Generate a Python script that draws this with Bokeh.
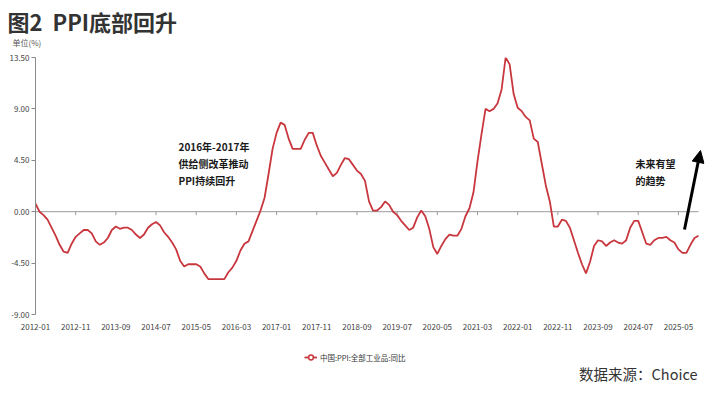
import numpy as np
from bokeh.plotting import figure
from bokeh.layouts import column
from bokeh.models import (Range1d, FixedTicker, NumeralTickFormatter, Label,
                          Arrow, NormalHead, Legend, LegendItem, ColumnDataSource)
from bokeh.embed import file_html
from bokeh.resources import INLINE

# ---------------- data ----------------
start_year, start_month = 2012, 1
ppi_yoy = [
    # 2012
    0.7, 0.0, -0.3, -0.7, -1.4, -2.1, -2.9, -3.5, -3.6, -2.8, -2.2, -1.9,
    # 2013
    -1.6, -1.6, -1.9, -2.6, -2.9, -2.7, -2.3, -1.6, -1.3, -1.5, -1.4, -1.4,
    # 2014
    -1.6, -2.0, -2.3, -2.0, -1.4, -1.1, -0.9, -1.2, -1.8, -2.2, -2.7, -3.3,
    # 2015
    -4.3, -4.8, -4.6, -4.6, -4.6, -4.8, -5.4, -5.9, -5.9, -5.9, -5.9, -5.9,
    # 2016
    -5.3, -4.9, -4.3, -3.4, -2.8, -2.6, -1.7, -0.8, 0.1, 1.2, 3.3, 5.5,
    # 2017
    6.9, 7.8, 7.6, 6.4, 5.5, 5.5, 5.5, 6.3, 6.9, 6.9, 5.8, 4.9,
    # 2018
    4.3, 3.7, 3.1, 3.4, 4.1, 4.7, 4.6, 4.1, 3.6, 3.3, 2.7, 0.9,
    # 2019
    0.1, 0.1, 0.4, 0.9, 0.6, 0.0, -0.3, -0.8, -1.2, -1.6, -1.4, -0.5,
    # 2020
    0.1, -0.4, -1.5, -3.1, -3.7, -3.0, -2.4, -2.0, -2.1, -2.1, -1.5, -0.4,
    # 2021
    0.3, 1.7, 4.4, 6.8, 9.0, 8.8, 9.0, 9.5, 10.7, 13.5, 12.9, 10.3,
    # 2022
    9.1, 8.8, 8.3, 8.0, 6.4, 6.1, 4.2, 2.3, 0.9, -1.3, -1.3, -0.7,
    # 2023
    -0.8, -1.4, -2.5, -3.6, -4.6, -5.4, -4.4, -3.0, -2.5, -2.6, -3.0, -2.7,
    # 2024
    -2.5, -2.7, -2.8, -2.5, -1.4, -0.8, -0.8, -1.8, -2.8, -2.9, -2.5, -2.3,
    # 2025
    -2.3, -2.2, -2.5, -2.7, -3.3, -3.6, -3.6, -2.9, -2.3, -2.1,
]
months = []
for i in range(len(ppi_yoy)):
    y = start_year + (start_month - 1 + i) // 12
    m = (start_month - 1 + i) % 12 + 1
    months.append(f"{y}-{m:02d}")
month_idx = list(range(len(ppi_yoy)))

x_tick_labels = ["2012-01", "2012-11", "2013-09", "2014-07", "2015-05", "2016-03",
                 "2017-01", "2017-11", "2018-09", "2019-07", "2020-05", "2021-03",
                 "2022-01", "2022-11", "2023-09", "2024-07", "2025-05"]
x_tick_idx = [months.index(s) for s in x_tick_labels]
y_ticks = [-9.0, -4.5, 0.0, 4.5, 9.0, 13.5]

series_name = "中国:PPI:全部工业品:同比"
title_text = "图2\u00a0\u00a0PPI底部回升"
unit_text = "单位(%)"
note1_text = "2016年-2017年\n供给侧改革推动\nPPI持续回升"
note2_text = "未来有望\n的趋势"
source_text = "数据来源：Choice"

# ---------------- layout geometry (page pixels) ----------------
W = 721
TOP_H = 50            # header strip height
F_LEFT, F_DATA_RIGHT, F_TOP, F_BOTTOM = 35, 698, 57, 314
F_RIGHT = 704         # frame right edge (a little beyond the last data point)
MAIN_H = 284          # main figure height
BOT_H = 62            # footer strip height
MAIN_TOP = TOP_H
BOT_TOP = MAIN_TOP + MAIN_H

x0, x1 = 0, len(ppi_yoy) - 1
px_per_month = (F_DATA_RIGHT - F_LEFT) / (x1 - x0)
x_end = x1 + (F_RIGHT - F_DATA_RIGHT) / px_per_month
ymin, ymax = y_ticks[0], y_ticks[-1]


def px_x(px):
    return x0 + (px - F_LEFT) / px_per_month


def px_y(py):
    return ymax - (py - F_TOP) / (F_BOTTOM - F_TOP) * (ymax - ymin)


FONT = "Noto Sans CJK SC"
RED = "#c8373e"
AXIS_GREY = "#8a8a8a"


def strip(height):
    f = figure(width=W, height=height, output_backend="svg", toolbar_location=None,
               x_range=Range1d(0, W), y_range=Range1d(height, 0),
               x_axis_location=None, y_axis_location=None,
               min_border=0, min_border_left=0, min_border_right=0,
               min_border_top=0, min_border_bottom=0, frame_align=False,
               background_fill_color="white", border_fill_color="white")
    f.outline_line_color = None
    f.xgrid.visible = False
    f.ygrid.visible = False
    return f


# ---------------- header ----------------
top = strip(TOP_H)
top.add_layout(Label(x=7, y=4, text=title_text, text_font=FONT,
                     text_font_size="22px", text_font_style="bold", text_color="#333333",
                     text_align="left", text_baseline="top"))
top.add_layout(Label(x=12, y=42, text=unit_text, text_font=FONT,
                     text_font_size="8px", text_color="#555555",
                     text_align="left", text_baseline="middle"))

# ---------------- main chart ----------------
p = figure(width=W, height=MAIN_H, output_backend="svg", toolbar_location=None,
           x_range=Range1d(x0, x_end), y_range=Range1d(ymin, ymax),
           min_border_left=F_LEFT, min_border_right=W - F_RIGHT,
           min_border_top=F_TOP - MAIN_TOP,
           min_border_bottom=MAIN_H - (F_BOTTOM - MAIN_TOP), frame_align=False,
           background_fill_color="white", border_fill_color="white")
p.outline_line_color = None
p.xgrid.grid_line_color = None
p.ygrid.grid_line_color = None

p.yaxis.ticker = FixedTicker(ticks=y_ticks)
p.yaxis.formatter = NumeralTickFormatter(format="0.00")
p.yaxis.axis_line_color = AXIS_GREY
p.yaxis.major_tick_line_color = AXIS_GREY
p.yaxis.major_tick_out = 4
p.yaxis.major_tick_in = 0
p.yaxis.minor_tick_line_color = None
p.yaxis.major_label_text_font = FONT
p.yaxis.major_label_text_font_size = "8px"
p.yaxis.major_label_text_color = "#444444"
p.yaxis.major_label_standoff = 2

p.xaxis.ticker = FixedTicker(ticks=x_tick_idx)
p.xaxis.major_label_overrides = {i: s for i, s in zip(x_tick_idx, x_tick_labels)}
p.xaxis.axis_line_color = None
p.xaxis.major_tick_line_color = None
p.xaxis.minor_tick_line_color = None
p.xaxis.major_label_text_font = FONT
p.xaxis.major_label_text_font_size = "8px"
p.xaxis.major_label_text_color = "#444444"
p.xaxis.major_label_standoff = 3

# zero line with small ticks
p.segment(x0=[x0], x1=[x1], y0=[0], y1=[0], line_color="#9a9a9a", line_width=1)
p.segment(x0=x_tick_idx, x1=x_tick_idx, y0=[0] * len(x_tick_idx),
          y1=[-0.3] * len(x_tick_idx), line_color="#9a9a9a", line_width=1)

line_r = p.line(month_idx, ppi_yoy, line_color=RED, line_width=1.8)

p.add_layout(Label(x=px_x(178), y=px_y(138), text=note1_text, text_font=FONT,
                   text_font_size="10px", text_font_style="bold", text_color="#1a1a1a",
                   text_align="left", text_baseline="top", text_line_height=1.15))
p.add_layout(Label(x=px_x(635), y=px_y(155), text=note2_text, text_font=FONT,
                   text_font_size="10px", text_font_style="bold", text_color="#1a1a1a",
                   text_align="left", text_baseline="top", text_line_height=1.15))
p.add_layout(Arrow(x_start=px_x(684), y_start=px_y(229), x_end=px_x(700), y_end=px_y(150),
                   line_color="black", line_width=3,
                   end=NormalHead(size=12, fill_color="black", line_color="black")))

# ---------------- footer (legend + source) ----------------
bot = strip(BOT_H)
legend_src = ColumnDataSource(data=dict(x=np.array([np.nan]), y=np.array([np.nan])))
leg_line = bot.line("x", "y", source=legend_src, line_color=RED, line_width=1.8)
leg_mark = bot.scatter("x", "y", source=legend_src, marker="circle", size=6,
                       line_color=RED, line_width=1.5, fill_color="white")
legend_cy = 357 - BOT_TOP
legend = Legend(items=[LegendItem(label=series_name, renderers=[leg_line, leg_mark])],
                location=(304, BOT_H - (legend_cy + 6)), orientation="horizontal",
                padding=0, margin=0, spacing=0, glyph_width=13, glyph_height=12,
                label_standoff=3, label_text_font=FONT, label_text_font_size="7.5px",
                label_text_color="#333333", border_line_color=None,
                background_fill_alpha=0)
bot.add_layout(legend, "center")
bot.add_layout(Label(x=697, y=373 - BOT_TOP, text=source_text, text_font=FONT,
                     text_font_size="14.5px", text_color="#333333",
                     text_align="right", text_baseline="middle"))

layout = column(top, p, bot, spacing=0)
open("out.html", "w").write(file_html(layout, INLINE))
